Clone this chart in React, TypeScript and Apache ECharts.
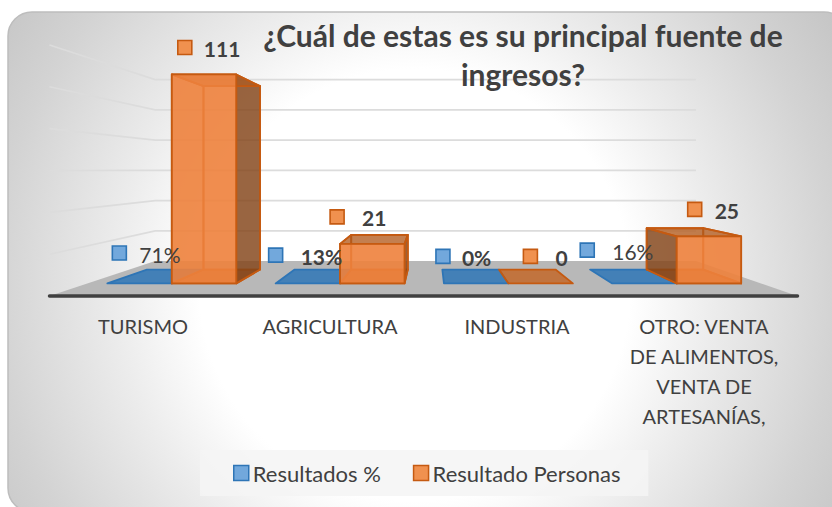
import React, { useEffect, useRef } from "react";
import * as echarts from "echarts";

const categories = ["TURISMO", "AGRICULTURA", "INDUSTRIA", "OTRO: VENTA\nDE ALIMENTOS,\nVENTA DE\nARTESANÍAS,"];
const resultadosPct = [0.71, 0.13, 0, 0.16];
const resultadoPersonas = [111, 21, 0, 25];
const wallTicks = [20, 40, 60, 80, 100, 120];
const TITLE = "¿Cuál de estas es su principal fuente de\ningresos?";

const FONT = "Lato";
const VP = { x: 431, y: 170 };
const S_FRONT = 0.9;
const S_BACK = 0.79;
const S_WALL = 0.723;
const BAR_FRACTION = 0.383;

// label placement relative to the bar's front top-left corner: [square dx, square dy, text gap]
const pctLabelPlace = [[12, -29, 27], [0, -28, 32], [-1, -27, 26], [-25, -33, 32]];
const personLabelPlace = [[13, -27, 26], [-3, -27, 32], [22, -27, 32], [18, -27, 27]];
const pctLabelWeight = ["normal", "bold", "bold", "normal"];

const project = (p: number[], s: number) => [VP.x + (p[0] - VP.x) * s, VP.y + (p[1] - VP.y) * s];

function barRender(side: "left" | "right", pal: any, place: number[][], fmt: (v: number) => string, weights?: string[]) {
  return (params: any, api: any) => {
    const i = api.value(0);
    const v = api.value(1);
    const band = api.size([1, 0])[0];
    const w = band * BAR_FRACTION;
    const base = api.coord([i, 0]);
    const top = api.coord([i, v]);
    const x0 = side === "left" ? base[0] - w : base[0];
    const x1 = x0 + w;
    const f = (x: number, y: number) => project([x, y], S_FRONT);
    const b = (x: number, y: number) => project([x, y], S_BACK);
    const poly = (points: number[][], fill: string, z2 = 1) => ({
      type: "polygon",
      z2,
      shape: { points },
      style: { fill, stroke: pal.stroke, lineWidth: 1.8, lineJoin: "round" },
    });
    const yb = base[1];
    const yt = top[1];
    const center = (x0 + x1) / 2;
    const innerX = center < VP.x ? x1 : x0;
    const hiddenX = center < VP.x ? x0 : x1;
    const flat = v < 1;
    const children: any[] = [
      poly([f(x0, yb), f(x1, yb), b(x1, yb), b(x0, yb)], pal.floor, 1),
    ];
    if (!flat) {
      children.push(poly([b(x0, yt), b(x1, yt), b(x1, yb), b(x0, yb)], pal.back, 2));
      children.push(poly([f(hiddenX, yt), b(hiddenX, yt), b(hiddenX, yb), f(hiddenX, yb)], pal.back, 3));
      children.push(poly([f(innerX, yt), b(innerX, yt), b(innerX, yb), f(innerX, yb)], pal.side, 4));
      children.push(poly([f(x0, yt), f(x1, yt), b(x1, yt), b(x0, yt)], pal.top, 5));
      children.push(poly([f(x0, yt), f(x1, yt), f(x1, yb), f(x0, yb)], pal.front, 6));
    }
    const corner = f(x0, yt);
    const [dx, dy, gap] = place[i];
    const cx = corner[0] + dx;
    const cy = corner[1] + dy;
    children.push({
      type: "rect",
      z2: 50,
      shape: { x: cx - 7, y: cy - 7, width: 14, height: 14 },
      style: { fill: pal.key, stroke: pal.stroke, lineWidth: 1.6 },
    });
    children.push({
      type: "text",
      z2: 51,
      style: {
        x: cx - 7 + gap,
        y: cy + 1,
        text: fmt(v),
        fill: "#404040",
        font: `${weights ? weights[i] : "bold"} 21px ${FONT}`,
        textAlign: "left",
        textVerticalAlign: "middle",
      },
    });
    return { type: "group", children };
  };
}

const bluePal = {
  stroke: "#2E75B6",
  floor: "rgba(46,117,182,0.85)",
  back: "rgba(91,155,213,0.3)",
  side: "rgba(46,117,182,0.7)",
  top: "rgba(46,117,182,0.7)",
  front: "rgba(91,155,213,0.85)",
  key: "#72A8DC",
};
const orangePal = {
  stroke: "#C55A11",
  floor: "rgba(197,90,17,0.72)",
  back: "rgba(237,125,49,0.25)",
  side: "rgba(125,66,26,0.78)",
  top: "rgba(175,90,30,0.72)",
  front: "rgba(238,130,62,0.88)",
  key: "#F0914F",
};

export default function App() {
  const ref = useRef<HTMLDivElement>(null);
  useEffect(() => {
    document.body.style.margin = "0";
    const chart = echarts.init(ref.current!, null, { renderer: "svg" });
    chart.setOption({
      animation: false,
      backgroundColor: "#ffffff",
      title: {
        text: TITLE,
        left: 518,
        top: 10,
        textAlign: "center",
        textStyle: { fontFamily: FONT, fontSize: 30, fontWeight: "bold", color: "#404040", lineHeight: 39 },
      },
      graphic: [
        {
          type: "rect",
          z: -1,
          shape: { x: 8, y: 12, width: 840, height: 500, r: 24 },
          style: {
            stroke: "#bdbdbd",
            lineWidth: 1.5,
            fill: new echarts.graphic.RadialGradient(
              415,
              285,
              600,
              [
                { offset: 0, color: "#ffffff" },
                { offset: 0.36, color: "#ffffff" },
                { offset: 0.5, color: "#ececec" },
                { offset: 0.7, color: "#d3d3d3" },
                { offset: 1, color: "#b4b4b4" },
              ],
              true
            ),
          },
        },
      ],
      legend: {
        data: [
          { name: "Resultados %", icon: "rect", itemStyle: { color: "#72A8DC", borderColor: "#2E75B6", borderWidth: 1.5 } },
          { name: "Resultado Personas", icon: "rect", itemStyle: { color: "#F0914F", borderColor: "#C55A11", borderWidth: 1.5 } },
        ],
        left: 200,
        top: 450,
        padding: [12, 28, 12, 33],
        itemWidth: 15,
        itemHeight: 15,
        itemGap: 32,
        backgroundColor: "rgba(245,245,245,0.85)",
        textStyle: { fontFamily: FONT, fontSize: 22, color: "#404040", padding: [0, 0, 0, -1] },
      },
      grid: { left: 49.5, width: 748, top: 45, height: 251 },
      xAxis: {
        type: "category",
        data: categories,
        z: 5,
        axisLine: { show: true, lineStyle: { color: "#404040", width: 3.5, cap: "round" } },
        axisTick: { show: false },
        axisLabel: {
          interval: 0,
          margin: 15,
          fontFamily: FONT,
          fontSize: 20,
          lineHeight: 30,
          color: "#404040",
          align: "center",
        },
      },
      yAxis: { type: "value", min: 0, max: 120, interval: 20, show: false, splitLine: { show: false } },
      series: [
        {
          type: "custom",
          name: "walls",
          silent: true,
          clip: false,
          z: 1,
          data: wallTicks.map((t) => [0, t]),
          renderItem: (p: any, api: any) => {
            const v = api.value(1);
            const left = api.coord([0, v]);
            const band = api.size([1, 0])[0];
            const xL = left[0] - band / 2;
            const xR = xL + band * categories.length;
            const a = project([xL, left[1]], S_WALL);
            const c = project([xR, left[1]], S_WALL);
            return {
              type: "polyline",
              shape: { points: [[xL, left[1]], a, c] },
              style: { stroke: "#dcdcdc", lineWidth: 1.6, fill: "none" },
            };
          },
        },
        {
          type: "custom",
          name: "floor",
          silent: true,
          clip: false,
          z: 1,
          data: [[0, 0]],
          renderItem: (p: any, api: any) => {
            const left = api.coord([0, 0]);
            const band = api.size([1, 0])[0];
            const xL = left[0] - band / 2;
            const xR = xL + band * categories.length;
            return {
              type: "polygon",
              shape: {
                points: [[xL, left[1]], project([xL, left[1]], S_WALL), project([xR, left[1]], S_WALL), [xR, left[1]]],
              },
              style: { fill: "#b8b8b8" },
            };
          },
        },
        {
          type: "custom",
          name: "Resultados %",
          clip: false,
          z: 2,
          itemStyle: { color: "#72A8DC" },
          data: resultadosPct.map((v, i) => [i, v]),
          encode: { x: 0, y: 1 },
          renderItem: barRender("left", bluePal, pctLabelPlace, (v) => `${Math.round(v * 100)}%`, pctLabelWeight),
        },
        {
          type: "custom",
          name: "Resultado Personas",
          clip: false,
          z: 2,
          itemStyle: { color: "#F0914F" },
          data: resultadoPersonas.map((v, i) => [i, v]),
          encode: { x: 0, y: 1 },
          renderItem: barRender("right", orangePal, personLabelPlace, (v) => String(v)),
        },
      ],
    });
    return () => chart.dispose();
  }, []);
  return <div ref={ref} style={{ width: 832, height: 507 }} />;
}
